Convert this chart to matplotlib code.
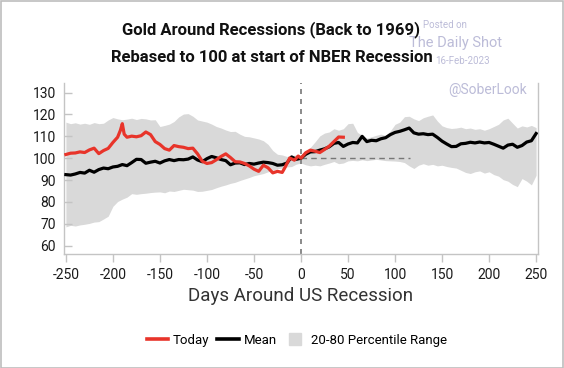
import matplotlib
matplotlib.use("Agg")
import matplotlib.pyplot as plt
from matplotlib.lines import Line2D
from matplotlib.patches import Rectangle
import numpy as np

plt.rcParams['font.family'] = ['Roboto', 'DejaVu Sans']

# ---------------- data ----------------
days = list(range(-250, 251, 5))

mean_vals = [92.5, 92.3, 92.8, 93.5, 93.2, 94.5, 93.6, 94.8, 95.5, 95.2,
             96.0, 96.3, 97.1, 96.6, 98.0, 99.5, 99.4, 97.7, 98.2, 98.6,
             97.8, 98.8, 99.4, 98.9, 99.4, 99.3, 99.6, 100.6, 99.2, 98.4,
             99.8, 100.8, 100.2, 99.4, 98.9, 97.0, 97.8, 97.9, 97.1, 97.6,
             97.3, 97.8, 98.2, 98.0, 97.6, 96.8, 97.0, 97.8, 100.6, 99.5,
             100.0, 101.8, 102.9, 103.0, 103.7, 104.3, 105.2, 106.8, 107.2, 105.4,
             106.5, 107.2, 107.0, 110.0, 107.6, 108.2, 108.0, 108.9, 109.4, 110.8,
             111.8, 112.3, 113.0, 113.8, 111.6, 111.0, 111.2, 110.8, 111.0, 109.5,
             107.8, 106.5, 105.3, 105.4, 106.6, 106.8, 107.3, 107.0, 107.4, 107.0,
             107.2, 106.4, 105.5, 104.6, 106.0, 106.4, 105.0, 105.8, 107.4, 108.0,
             111.3]

upper_vals = [116.5, 115.8, 116.2, 115.6, 116.0, 115.5, 116.3, 115.8, 116.0, 117.5,
              118.6, 118.0, 117.6, 117.9, 118.3, 117.7, 118.2, 118.0, 117.5, 117.6,
              114.5, 115.0, 115.6, 116.8, 118.9, 120.2, 120.4, 119.2, 117.5, 117.0,
              116.5, 115.6, 114.5, 113.8, 112.9, 112.2, 112.3, 111.0, 110.0, 109.8,
              109.3, 108.8, 108.0, 106.3, 103.5, 101.8, 101.5, 100.8, 101.2, 101.5,
              101.6, 103.0, 105.0, 107.5, 110.2, 111.5, 112.0, 113.5, 112.8, 113.5,
              115.8, 116.0, 111.8, 110.5, 109.2, 109.8, 110.5, 111.0, 110.4, 112.5,
              115.5, 116.5, 119.0, 119.2, 118.0, 117.2, 118.5, 119.2, 119.8, 117.0,
              114.8, 114.0, 113.6, 113.8, 114.2, 113.5, 113.8, 113.2, 113.5, 112.8,
              113.5, 114.5, 115.5, 117.5, 118.3, 116.0, 113.8, 114.8, 114.3, 115.0,
              114.0]

lower_vals = [68.6, 69.3, 69.0, 69.5, 69.8, 70.2, 70.8, 71.0, 72.2, 73.5,
              78.0, 80.2, 81.3, 82.2, 83.8, 83.5, 83.8, 84.0, 84.3, 84.5,
              84.6, 84.2, 85.0, 84.8, 85.3, 85.8, 85.6, 85.4, 84.8, 84.9,
              85.3, 85.7, 86.5, 87.2, 87.8, 88.5, 89.0, 89.8, 90.5, 91.2,
              92.0, 92.5, 93.0, 93.8, 94.5, 95.2, 95.5, 96.0, 96.2, 97.3,
              97.8, 97.0, 96.5, 96.8, 96.5, 97.2, 97.8, 98.5, 97.5, 97.8,
              98.8, 99.0, 98.8, 99.3, 98.9, 99.2, 99.5, 99.2, 98.9, 98.8,
              98.7, 98.5, 98.0, 96.5, 95.3, 96.8, 97.5, 96.8, 97.2, 96.5,
              96.8, 96.2, 95.8, 95.5, 94.5, 93.5, 93.0, 93.8, 94.2, 93.2,
              93.8, 92.5, 91.8, 90.2, 89.5, 88.0, 87.0, 90.7, 89.5, 87.8,
              92.2]

today_days = [-250, -245, -240, -235, -230, -225, -220, -215, -210, -205,
              -200, -195, -192, -190, -188, -185, -180, -175, -170, -165,
              -160, -155, -150, -145, -140, -135, -130, -125, -120, -115,
              -110, -105, -100, -95, -90, -85, -80, -75, -70, -65,
              -60, -55, -50, -45, -40, -35, -30, -25, -20, -17,
              -12, -7, -3, 0, 5, 10, 15, 20, 25, 30,
              35, 40, 45]
today_vals = [101.7, 102.3, 102.4, 102.9, 102.6, 103.8, 104.6, 102.1, 103.5, 104.5,
              107.2, 109.6, 112.8, 115.8, 111.0, 109.6, 110.1, 109.8, 110.3, 112.0,
              110.8, 107.6, 106.3, 104.4, 103.7, 105.8, 105.3, 105.0, 104.4, 104.6,
              102.0, 98.6, 97.6, 98.0, 99.3, 100.8, 102.0, 100.3, 98.4, 98.3,
              97.6, 96.5, 95.0, 94.0, 96.8, 95.6, 93.3, 94.0, 93.5, 95.8,
              100.1, 99.1, 101.0, 100.0, 102.5, 103.7, 103.2, 102.6, 104.0, 105.5,
              107.6, 109.7, 109.6]

xticks = [-250, -200, -150, -100, -50, 0, 50, 100, 150, 200, 250]
yticks = [60, 70, 80, 90, 100, 110, 120, 130]

# ---------------- figure ----------------
W, H = 564, 368
fig = plt.figure(figsize=(W / 100, H / 100), dpi=100)
ax = fig.add_axes([64 / W, 1 - 254 / H, (538 - 64) / W, (254 - 83) / H])

band_col = '#d9d9d9'
red_col = '#e8342a'

ax.fill_between(days, lower_vals, upper_vals, color=band_col, lw=0, zorder=1)
ax.axvline(0, color='#777777', lw=1.2, ls=(0, (3, 3)), zorder=2)
ax.plot([0, 116], [100, 100], color='#777777', lw=1.0, ls=(0, (4, 3)), zorder=2)
ax.plot(days, mean_vals, color='black', lw=2.3, zorder=3, solid_joinstyle='round')
ax.plot(today_days, today_vals, color=red_col, lw=2.3, zorder=4, solid_joinstyle='round')

ax.set_xlim(-252, 252)
ax.set_ylim(56.2, 134.4)
ax.set_xticks(xticks)
ax.set_yticks(yticks)
ax.set_xticklabels([str(v) for v in xticks])
ax.set_yticklabels([str(v) for v in yticks])

spine_col = '#c4c4c4'
for s in ['left', 'right', 'bottom']:
    ax.spines[s].set_color(spine_col)
    ax.spines[s].set_linewidth(1.0)
ax.spines['top'].set_visible(False)

ax.tick_params(axis='y', direction='in', length=6, width=1, color=spine_col,
               labelsize=10, labelcolor='#1a1a1a', pad=6)
ax.tick_params(axis='x', direction='out', length=6, width=1, color=spine_col,
               labelsize=10, labelcolor='#1a1a1a', pad=4)

ax.set_xlabel('Days Around US Recession', fontsize=13.5, color='#333333', labelpad=4)

# watermarks
wm_col = '#bcbcd8'
fig.text(423 / W, 1 - 25 / H, 'Posted on', ha='left', va='center', fontsize=7, color=wm_col)
fig.text(456 / W, 1 - 43 / H, 'The Daily Shot', ha='center', va='center', fontsize=10.5, color=wm_col)
fig.text(435 / W, 1 - 61 / H, '16-Feb-2023', ha='left', va='center', fontsize=7, color=wm_col)
fig.text(488 / W, 1 - 90 / H, '@SoberLook', ha='center', va='center', fontsize=10, color=wm_col)

# titles
fig.text(271.5 / W, 1 - 30 / H, 'Gold Around Recessions (Back to 1969)', ha='center', va='center',
         fontsize=12, fontweight='bold', color='#111111')
fig.text(271.5 / W, 1 - 57 / H, 'Rebased to 100 at start of NBER Recession', ha='center', va='center',
         fontsize=12, fontweight='bold', color='#111111')

# legend
handles = [Line2D([0], [0], color=red_col, lw=2.6),
           Line2D([0], [0], color='black', lw=2.6),
           Line2D([0], [0], color=band_col, ls='none', marker='s', markersize=9)]
labels = ['Today', 'Mean', '20-80 Percentile Range']
fig.legend(handles, labels, loc='center', bbox_to_anchor=(297 / W, 1 - 340 / H), ncol=3,
           frameon=False, fontsize=9.5, handlelength=1.6, handleheight=0.9,
           columnspacing=0.6, handletextpad=0.4)

# border
fig.patches.append(Rectangle((0.5 / W, 0.5 / H), 1 - 1.5 / W, 1 - 1.5 / H, transform=fig.transFigure,
                             fill=False, edgecolor='#bdbdbd', lw=1.2))

fig.savefig('out.png', dpi=100)
